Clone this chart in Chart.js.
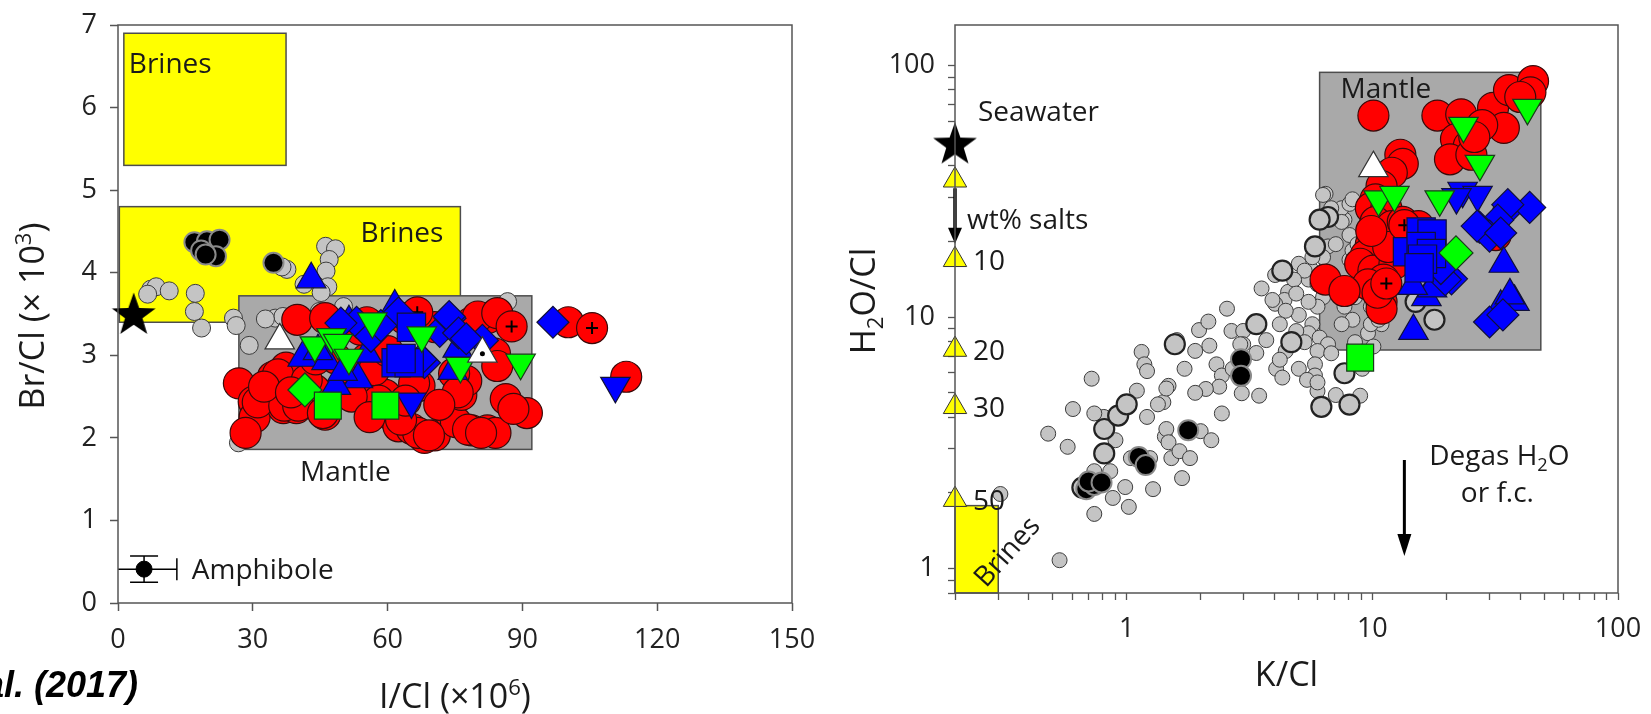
<!DOCTYPE html>
<html><head><meta charset="utf-8">
<script src="https://cdn.jsdelivr.net/npm/chart.js@4.4.1/dist/chart.umd.min.js"></script>
<style>
html,body{margin:0;padding:0;background:#fff;width:1651px;height:714px;overflow:hidden;position:relative;}
#wl{position:absolute;left:0;top:0;width:820px;height:714px;}
#wr{position:absolute;left:820px;top:0;width:831px;height:714px;}
#cite{position:absolute;right:1513px;top:663px;font:italic bold 36px "Liberation Sans",Arial,sans-serif;white-space:nowrap;line-height:44px;color:#000;}
</style></head><body>
<div id="wl"><canvas id="cl" width="820" height="714"></canvas></div>
<div id="wr"><canvas id="cr" width="831" height="714"></canvas></div>
<div id="cite">Kendrick et al. (2017)</div>
<script>
// ================= DATA =================
// Left panel: I/Cl (x10^6) vs Br/Cl (x10^3)
const leftXTicks = [0, 30, 60, 90, 120, 150];
const leftYTicks = [0, 1, 2, 3, 4, 5, 6, 7];
// boxes: [x0, x1, y0, y1]
const leftBrinesUpper = [1.3, 37.4, 5.3, 6.9];
const leftBrinesLower = [0.3, 76.2, 3.4, 4.8];
const leftMantle = [26.9, 92.1, 1.86, 3.72];

const leftGray = [[7.3,3.80],[8.5,3.83],[11.4,3.78],[6.6,3.74],[17.2,3.75],[17.0,3.53],[18.6,3.33],[25.7,3.45],[26.3,3.36],[29.2,3.12],[35.0,3.45],[36.7,3.47],[26.8,1.94],[44.8,3.53],[50.2,3.59],[86.7,3.65],[46.2,4.32],[48.4,4.29],[47.0,4.16],[46.3,4.02],[46.7,3.83],[37.6,4.04],[36.5,4.07],[41.4,3.86],[45.2,3.76],[32.8,3.44]];
const leftBlack = [[17.0,4.37],[19.8,4.38],[22.6,4.40],[21.8,4.20],[18.5,4.27],[19.5,4.22],[34.6,4.12]];
const leftRed = [[26.9,2.66],[30.2,2.44],[30.4,2.25],[28.4,2.06],[35.1,2.52],[36.8,2.36],[39.7,2.36],[34.5,2.74],[37.4,2.85],[39.9,3.43],[43.8,2.58],[46.1,2.28],[48.5,3.32],[53.7,2.71],[55.4,2.96],[59.5,2.52],[60.7,2.28],[62.4,2.14],[65.3,2.11],[68.2,2.00],[70.5,2.03],[65.9,2.80],[67.1,2.63],[63.6,3.45],[70.5,3.34],[73.9,2.30],[75.2,2.19],[76.4,2.52],[77.5,2.69],[78.7,2.09],[82.2,2.09],[84.0,2.06],[83.9,3.02],[86.3,2.47],[91.0,2.30],[78.7,3.40],[82.2,3.45],[100.2,3.40],[113.1,2.74],[55.4,3.40],[46.1,3.45],[48.5,2.96],[33.6,2.51],[31.1,2.43],[37.0,2.39],[40.1,2.39],[35.6,2.77],[45.6,2.30],[53.9,3.31],[57.0,2.82],[65.9,2.66],[66.8,2.06],[69.2,2.03],[63.0,2.22],[74.8,2.78],[75.6,2.55],[77.9,2.10],[80.8,2.06],[84.4,2.87],[80.1,3.47],[84.4,3.51],[42.0,2.70],[50.5,2.62],[58.0,2.45],[71.5,2.40],[60.0,3.05],[44.0,2.95],[52.0,2.50],[56.0,2.25],[64.0,2.45],[88.0,2.35],[32.5,2.62],[38.5,2.55]];
const leftRedPlus = [[66.6,3.52],[87.6,3.35],[105.5,3.33]];
const leftBlueUp = [[43.0,3.92],[41.1,2.97],[46.4,2.93],[51.4,3.40],[53.4,2.71],[48.5,2.63],[61.6,3.59],[74.5,2.81],[75.6,3.08],[55.4,3.02],[50.0,2.80],[44.5,3.05]];
const leftBlueDiamond = [[55.4,3.29],[53.1,3.40],[62.4,3.51],[68.2,2.91],[71.6,3.29],[73.9,3.45],[81.1,3.18],[96.8,3.40],[56.3,3.23],[73.7,3.47],[75.8,3.27],[67.4,2.95],[49.6,3.39],[58.5,3.36],[77.5,3.20]];
const leftBlueSquare = [[61.9,2.91],[65.3,3.34],[64.8,2.91],[63.0,2.96]];
const leftBlueDown = [[65.3,2.44],[110.7,2.63]];
const leftGreenDown = [[43.8,3.12],[47.5,3.22],[49.0,3.15],[51.4,2.97],[56.6,3.41],[67.6,3.24],[76.2,2.87],[89.6,2.91]];
const leftGreenDiamond = [[41.6,2.58]];
const leftGreenSquare = [[46.7,2.39],[59.5,2.39]];
const leftWhiteUp = [[36.0,3.18],[81.1,3.02]];
const leftWhiteDot = [[81.1,3.02]];
const leftSeawater = [[3.5,3.5]];
// amphibole representative analytical error
const amphPoint = [[5.8,0.41]];
const amphErrX = [7.3];
const amphErrY = [0.16];

// Right panel: K/Cl vs H2O/Cl (log-log)
const rightXTicks = [0.2,0.3,0.4,0.5,0.6,0.7,0.8,0.9,1,2,3,4,5,6,7,8,9,10,20,30,40,50,60,70,80,90,100];
const rightYTicks = [0.8,0.9,1,2,3,4,5,6,7,8,9,10,20,30,40,50,60,70,80,90,100];
const rightMajorTicks = [1, 10, 100];
const rightBrines = [0.2, 0.3, 0.8, 1.78];
const rightMantle = [6.1, 48.5, 7.4, 94];

const rightGraySmall = [[0.533,1.08],[0.479,3.44],[0.575,3.05],[0.72,5.69],[0.604,4.31],[0.807,4.01],[0.738,2.44],[0.857,2.44],[0.685,2.15],[0.738,1.65],[0.878,1.91],[1.02,1.76],[0.986,2.11],[1.28,2.07],[1.245,2.75],[1.52,2.75],[1.43,3.35],[1.21,4.01],[1.41,4.59],[1.48,5.33],[1.45,3.59],[1.48,3.18],[1.64,2.93],[1.68,2.29],[2.0,3.52],[1.6,8.1],[1.15,7.27],[1.18,6.49],[1.21,6.10],[1.97,8.88],[2.17,7.7],[2.67,8.81],[2.98,8.81],[3.54,13.0],[4.02,14.7],[4.54,12.6],[4.39,11.7],[4.02,11.3],[3.92,11.7],[2.98,7.8],[2.94,4.98],[2.32,6.49],[2.44,5.86],[2.38,5.29],[2.7,6.23],[4.06,6.23],[2.9,7.8],[2.1,5.18],[1.9,5.0],[0.306,1.98],
[6.45,30.9],[7.7,24.4],[7.5,27.1],[8.07,28.2],[6.6,19.1],[6.3,17.3],[6.6,14.7],[5.7,15.3],[5.02,16.3],[5.5,14.1],[5.98,13.5],[6.3,12.0],[5.98,11.0],[7.5,13.0],[7.7,11.0],[8.3,9.76],[7.5,9.37],[5.7,9.37],[5.5,8.63],[6.1,8.29],[6.6,7.8],[5.98,7.33],[6.8,7.18],[5.84,6.49],[5.84,5.86],[5.98,5.08],[9.1,6.23],[9.3,7.04],[9.6,8.63],[10.9,9.37],[8.92,14.1],[8.07,16.9],[8.3,18.4],[9.86,14.7],[8.5,12.0],[9.86,11.0],[6.8,27.1],[5.5,11.5],[5.02,10.2],[4.9,8.8],[4.44,7.33],[5.02,6.23],[5.42,5.63],
[6.3,30.6],[8.3,29.4],[7.5,23.9],[8.07,21.2],[7.1,19.5],[8.7,19.5],[5.7,17.3],[5.3,15.3],[4.8,14.1],[4.9,12.4],[4.44,10.6],[4.2,9.37],[5.3,7.95],[8.5,7.95],[10.1,7.64],[9.86,9.37],[7.1,4.9],[5.98,5.5],[4.2,6.77],[3.7,8.1],[3.37,7.2],[2.56,10.8],[2.15,9.6],[1.9,7.34],[1.72,6.23],[1.45,5.2],[1.34,4.5],[1.1,5.1],[0.9,3.24],[0.738,4.14],[1.04,2.75],[1.81,2.75],[2.21,3.24],[2.44,4.14],[3.46,4.87],[4.3,5.75],[8.92,4.87],[10.6,9.76]];
const rightGrayLarge = [[0.81,3.59],[0.923,4.06],[1.0,4.5],[0.81,2.87],[1.57,7.8],[3.37,9.37],[6.6,25.0],[5.84,19.1],[6.2,4.4],[8.07,4.49],[7.7,5.98],[4.68,7.95],[17.9,9.76],[15,11.5],[0.66,2.1],[4.3,15.3],[6.1,24.4]];
const rightBlack = [[0.685,2.07],[0.738,2.15],[0.7,2.22],[0.79,2.2],[1.12,2.78],[1.195,2.58],[1.78,3.55],[2.92,6.8],[2.92,5.84]];
const rightRed = [[10.1,63.3],[18.4,63.3],[23.0,64],[31.0,67.9],[36.0,79.9],[45.1,86.7],[44,78.3],[34.3,56.5],[21.9,51],[24.7,48],[20.7,42.4],[25.3,44.2],[13,44.2],[13.3,40.7],[12,37.5],[10.9,33.2],[10.3,29.4],[9.86,27.1],[11.4,27.1],[10.3,23.9],[9.86,19.5],[10.6,20.3],[10.9,17.6],[9.4,17.6],[12,23],[13.3,23.9],[15.4,23],[8.92,16.3],[10.1,15.3],[12.3,16.3],[11.1,14.1],[9.6,13.5],[10.9,11.5],[10.9,10.8],[6.45,14.1],[7.7,12.7],[31.8,21.2],[40,75],[28,58],[26,52],[11.6,19],[9.9,22],[10.5,12.5]];
const rightRedPlus = [[11.4,13.6],[13.5,23.2]];
const rightBlueUp = [[34.3,16.3],[37.9,11.5],[33.3,11.0],[14.7,8.81],[16.6,12.0],[17.5,13.0],[14.6,13.3],[36.3,12.2]];
const rightBlueDown = [[23.3,31.8],[26.8,30.6],[22.0,30.0]];
const rightBlueDiamond = [[36,27.1],[43.7,27.3],[35.6,28],[32.4,24.3],[27.3,22.8],[30,21],[26.7,23],[33.3,21.6],[21,14.2],[19.8,14.1],[30,9.56],[34,10.2],[19,15.6]];
const rightBlueSquare = [[15.8,21.8],[17.5,21.4],[13.9,18.2],[15.8,19.1],[17.4,17.9],[16,17.0],[15.5,15.7]];
const rightGreenDown = [[10.6,29.4],[12.3,30.6],[18.8,29.4],[23.5,57.6],[27.4,40.7],[42.8,67.9]];
const rightGreenDiamond = [[21.9,18.0]];
const rightGreenSquare = [[8.92,6.9]];
const rightWhiteUp = [[10.1,39.1]];
const rightSeawater = [[0.2,49]];
const saltPoints = [[0.2,35],[0.2,16.9],[0.2,7.43],[0.2,4.4],[0.2,1.88]];
const saltLabels = ['', '10', '20', '30', '50'];

// ================= DRAWING =================
const FAM = '"Open Sans","Noto Sans","DejaVu Sans",sans-serif';
const fnt = s => s + 'px ' + FAM;
const TXT = '#1a1a1a';

function starCanvas(size){
  const c = document.createElement('canvas'); c.width = size; c.height = size;
  const g = c.getContext('2d'); const R = size/2 - 1, r = R*0.4, cx = size/2, cy = size/2 + 1.5;
  g.beginPath();
  for (let i = 0; i < 10; i++){ const a = -Math.PI/2 + i*Math.PI/5; const rr = i%2 ? r : R;
    g.lineTo(cx + rr*Math.cos(a), cy + rr*Math.sin(a)); }
  g.closePath(); g.fillStyle = '#000'; g.fill(); return c;
}
const STAR = starCanvas(48);

function drawRich(ctx, parts, x, cy, size, align){
  let w = 0;
  const items = parts.map(p => {
    const s = (typeof p === 'string') ? {t:p} : p;
    const fs = (s.sub || s.sup) ? size*0.65 : size;
    ctx.font = fnt(fs);
    const mw = ctx.measureText(s.t).width; w += mw;
    return {t:s.t, fs, mw, dy: s.sub ? size*0.22 : (s.sup ? -size*0.4 : 0)};
  });
  let cx = align === 'center' ? x - w/2 : (align === 'right' ? x - w : x);
  const base = cy + size*0.357;
  ctx.textBaseline = 'alphabetic'; ctx.textAlign = 'left'; ctx.fillStyle = TXT;
  for (const it of items){ ctx.font = fnt(it.fs); ctx.fillText(it.t, cx, base + it.dy); cx += it.mw; }
}
function drawBox(ctx, xs, ys, b, fill){
  const x0 = xs.getPixelForValue(b[0]), x1 = xs.getPixelForValue(b[1]);
  const y0 = ys.getPixelForValue(b[2]), y1 = ys.getPixelForValue(b[3]);
  ctx.save(); ctx.fillStyle = fill; ctx.strokeStyle = '#4d4d4d'; ctx.lineWidth = 1.5;
  const L = Math.min(x0,x1), T = Math.min(y0,y1), W = Math.abs(x1-x0), H = Math.abs(y1-y0);
  ctx.fillRect(L, T, W, H); ctx.strokeRect(L, T, W, H); ctx.restore();
  return {L, T, R: L+W, B: T+H};
}
function vArrow(ctx, x, y0, y1, lw, hl, hw){
  ctx.save(); ctx.strokeStyle = '#000'; ctx.fillStyle = '#000'; ctx.lineWidth = lw;
  ctx.beginPath(); ctx.moveTo(x, y0); ctx.lineTo(x, y1 - hl + 2); ctx.stroke();
  ctx.beginPath(); ctx.moveTo(x - hw/2, y1 - hl); ctx.lineTo(x + hw/2, y1 - hl); ctx.lineTo(x, y1); ctx.closePath(); ctx.fill();
  ctx.restore();
}
function frame(chart){
  const a = chart.chartArea, ctx = chart.ctx;
  ctx.save(); ctx.strokeStyle = '#555'; ctx.lineWidth = 1.5;
  ctx.strokeRect(a.left, a.top, a.right - a.left, a.bottom - a.top); ctx.restore();
}

const ST = {
  gray:   {pointStyle:'circle', pointRadius:9, pointBackgroundColor:'#c4c4c4', pointBorderColor:'#3c3c3c', pointBorderWidth:1},
  graySm: {pointStyle:'circle', pointRadius:7.5, pointBackgroundColor:'#c4c4c4', pointBorderColor:'#3c3c3c', pointBorderWidth:1},
  grayLg: {pointStyle:'circle', pointRadius:10, pointBackgroundColor:'#c4c4c4', pointBorderColor:'#222', pointBorderWidth:2.2},
  black:  {pointStyle:'circle', pointRadius:10, pointBackgroundColor:'#000', pointBorderColor:'#8a8a8a', pointBorderWidth:2},
  red:    {pointStyle:'circle', pointRadius:15.5, pointBackgroundColor:'#ff0000', pointBorderColor:'#3a0a0a', pointBorderWidth:1.2},
  cross:  {pointStyle:'cross', pointRadius:6, pointBorderColor:'#000', pointBorderWidth:2},
  blueUp: {pointStyle:'triangle', pointRadius:17, pointBackgroundColor:'#0000ff', pointBorderColor:'#10103a', pointBorderWidth:1.2},
  blueDn: {pointStyle:'triangle', pointRotation:180, pointRadius:17, pointBackgroundColor:'#0000ff', pointBorderColor:'#10103a', pointBorderWidth:1.2},
  blueDi: {pointStyle:'rectRot', pointRadius:16, pointBackgroundColor:'#0000ff', pointBorderColor:'#10103a', pointBorderWidth:1.2},
  blueSq: {pointStyle:'rect', pointRadius:20, pointBackgroundColor:'#0000ff', pointBorderColor:'#10103a', pointBorderWidth:1.2},
  greenDn:{pointStyle:'triangle', pointRotation:180, pointRadius:17, pointBackgroundColor:'#00ff00', pointBorderColor:'#1a3a1a', pointBorderWidth:1.2},
  greenDi:{pointStyle:'rectRot', pointRadius:17, pointBackgroundColor:'#00ff00', pointBorderColor:'#1a3a1a', pointBorderWidth:1.2},
  greenSq:{pointStyle:'rect', pointRadius:19, pointBackgroundColor:'#00ff00', pointBorderColor:'#1a3a1a', pointBorderWidth:1.2},
  white:  {pointStyle:'triangle', pointRadius:17, pointBackgroundColor:'#ffffff', pointBorderColor:'#333', pointBorderWidth:1.2},
  dot:    {pointStyle:'circle', pointRadius:2.5, pointBackgroundColor:'#000', pointBorderColor:'#000', pointBorderWidth:0},
  star:   {pointStyle:STAR, pointRadius:24},
  salt:   {pointStyle:'triangle', pointRadius:13.5, pointBackgroundColor:'#ffff00', pointBorderColor:'#333', pointBorderWidth:1},
  amph:   {pointStyle:'circle', pointRadius:8, pointBackgroundColor:'#000', pointBorderColor:'#000', pointBorderWidth:1}
};
function build(list){
  return list.map((d, i) => Object.assign({
    label: d[0], data: d[1].map(p => ({x:p[0], y:p[1]})), clip:false, order:-i, showLine:false
  }, ST[d[2]], {pointHoverRadius: ST[d[2]].pointRadius}));
}
function tickFont(){ return {family: FAM, size: 27}; }
const TITLE = 34;

// ---------- Left chart ----------
const leftPlugin = {
  id: 'leftAnn',
  beforeDatasetsDraw(chart){
    const {ctx, scales:{x, y}} = chart;
    const b1 = drawBox(ctx, x, y, leftBrinesUpper, '#ffff00');
    const b2 = drawBox(ctx, x, y, leftBrinesLower, '#ffff00');
    const m = drawBox(ctx, x, y, leftMantle, '#a9a9a9');
    chart.$boxes = {b1, b2, m};
  },
  afterDatasetsDraw(chart){
    const {ctx, scales:{x, y}} = chart; const a = chart.chartArea;
    const {b1, b2, m} = chart.$boxes;
    ctx.save();
    ctx.beginPath(); ctx.rect(a.left, a.top, a.right-a.left, a.bottom-a.top); ctx.clip();
    ctx.strokeStyle = '#000'; ctx.lineWidth = 1.5;
    const px = x.getPixelForValue(amphPoint[0][0]), py = y.getPixelForValue(amphPoint[0][1]);
    const xl = x.getPixelForValue(amphPoint[0][0] - amphErrX[0]), xr = x.getPixelForValue(amphPoint[0][0] + amphErrX[0]);
    const yt = y.getPixelForValue(amphPoint[0][1] + amphErrY[0]), yb = y.getPixelForValue(amphPoint[0][1] - amphErrY[0]);
    ctx.beginPath();
    ctx.moveTo(xl, py); ctx.lineTo(xr, py);
    ctx.moveTo(xr, py - 11); ctx.lineTo(xr, py + 11);
    ctx.moveTo(px, yt); ctx.lineTo(px, yb);
    ctx.moveTo(px - 14, yt); ctx.lineTo(px + 14, yt);
    ctx.moveTo(px - 14, yb); ctx.lineTo(px + 14, yb);
    ctx.stroke(); ctx.restore();
    drawRich(ctx, ['Amphibole'], xr + 15, py, 28, 'left');
    drawRich(ctx, ['Brines'], b1.L + 5, b1.T + 30, 28, 'left');
    drawRich(ctx, ['Brines'], b2.R - 17, b2.T + 25, 28, 'right');
    drawRich(ctx, ['Mantle'], (m.L + m.R)/2 - 40, m.B + 22, 28, 'center');
    frame(chart);
  },
  afterDraw(chart){
    const ctx = chart.ctx; const a = chart.chartArea;
    drawRich(ctx, ['I/Cl (×10', {t:'6', sup:true}, ')'], (a.left + a.right)/2, 696, TITLE, 'center');
    ctx.save(); ctx.translate(32, (a.top + a.bottom)/2 + 2); ctx.rotate(-Math.PI/2);
    drawRich(ctx, ['Br/Cl (× 10', {t:'3', sup:true}, ')'], 0, 0, TITLE, 'center');
    ctx.restore();
  }
};

new Chart(document.getElementById('cl'), {
  type: 'scatter',
  data: { datasets: build([
    ['Gray', leftGray, 'gray'],
    ['Black', leftBlack, 'black'],
    ['Red', leftRed, 'red'],
    ['Red+', leftRedPlus, 'red'],
    ['Cross', leftRedPlus, 'cross'],
    ['BlueUp', leftBlueUp, 'blueUp'],
    ['BlueDi', leftBlueDiamond, 'blueDi'],
    ['BlueSq', leftBlueSquare, 'blueSq'],
    ['BlueDn', leftBlueDown, 'blueDn'],
    ['GreenDn', leftGreenDown, 'greenDn'],
    ['GreenDi', leftGreenDiamond, 'greenDi'],
    ['GreenSq', leftGreenSquare, 'greenSq'],
    ['White', leftWhiteUp, 'white'],
    ['WhiteDot', leftWhiteDot, 'dot'],
    ['Seawater', leftSeawater, 'star'],
    ['Amphibole', amphPoint, 'amph']
  ])},
  options: {
    responsive: false, animation: false, events: [],
    layout: { padding: {left: 0, right: 28, top: 19, bottom: 0} },
    plugins: { legend: {display: false}, tooltip: {enabled: false} },
    scales: {
      x: { type: 'linear', min: 0, max: 150,
        afterBuildTicks: s => { s.ticks = leftXTicks.map(v => ({value: v})); },
        afterFit: s => { s.height = 111; s.paddingLeft = 0; s.paddingRight = 0; },
        ticks: { font: tickFont(), color: '#222', padding: 13, maxRotation: 0, autoSkip: false },
        grid: { drawOnChartArea: false, drawTicks: true, tickLength: 8, tickColor: '#555', tickWidth: 1.5 },
        border: { display: false } },
      y: { type: 'linear', min: 0, max: 7,
        afterBuildTicks: s => { s.ticks = leftYTicks.map(v => ({value: v})); },
        afterFit: s => { s.width = 118; s.paddingTop = 0; s.paddingBottom = 0; },
        ticks: { font: tickFont(), color: '#222', padding: 13, autoSkip: false },
        grid: { drawOnChartArea: false, drawTicks: true, tickLength: 8, tickColor: '#555', tickWidth: 1.5 },
        border: { display: false } }
    }
  },
  plugins: [leftPlugin]
});

// ---------- Right chart ----------
const rightPlugin = {
  id: 'rightAnn',
  beforeDatasetsDraw(chart){
    const {ctx, scales:{x, y}} = chart;
    chart.$b = drawBox(ctx, x, y, rightBrines, '#ffff00');
    chart.$m = drawBox(ctx, x, y, rightMantle, '#a9a9a9');
  },
  afterDatasetsDraw(chart){
    const {ctx, scales:{x, y}} = chart;
    const ax = x.getPixelForValue(0.2);
    const b = chart.$b, m = chart.$m;
    vArrow(ctx, ax, y.getPixelForValue(saltPoints[0][1]) + 8, y.getPixelForValue(saltPoints[1][1]) - 16, 3.5, 16, 14);
    drawRich(ctx, ['Seawater'], ax + 23, y.getPixelForValue(rightSeawater[0][1]) - 33, 28, 'left');
    drawRich(ctx, ['wt% salts'], ax + 12, y.getPixelForValue(24.5), 28, 'left');
    saltPoints.forEach((p, i) => { if (saltLabels[i]) drawRich(ctx, [saltLabels[i]], ax + 18, y.getPixelForValue(p[1]), 28, 'left'); });
    ctx.save(); ctx.translate(b.R + 8, b.B - 42); ctx.rotate(-48 * Math.PI/180);
    drawRich(ctx, ['Brines'], 0, 0, 28, 'center'); ctx.restore();
    drawRich(ctx, ['Mantle'], m.L + 21, m.T + 16, 28, 'left');
    const dx = x.getPixelForValue(13.5);
    drawRich(ctx, ['Degas H', {t:'2', sub:true}, 'O'], dx + 95, 455, 28, 'center');
    drawRich(ctx, ['or f.c.'], dx + 93, 492, 28, 'center');
    vArrow(ctx, dx, 460, 556, 3, 22, 14);
    frame(chart);
  },
  afterDraw(chart){
    const ctx = chart.ctx; const a = chart.chartArea;
    drawRich(ctx, ['K/Cl'], (a.left + a.right)/2, 674, TITLE, 'center');
    ctx.save(); ctx.translate(43, 301); ctx.rotate(-Math.PI/2);
    drawRich(ctx, ['H', {t:'2', sub:true}, 'O/Cl'], 0, 0, TITLE, 'center');
    ctx.restore();
  }
};

const logLabel = v => rightMajorTicks.includes(v) ? String(v) : '';
new Chart(document.getElementById('cr'), {
  type: 'scatter',
  data: { datasets: build([
    ['GraySm', rightGraySmall, 'graySm'],
    ['GrayLg', rightGrayLarge, 'grayLg'],
    ['Black', rightBlack, 'black'],
    ['Red', rightRed, 'red'],
    ['Red+', rightRedPlus, 'red'],
    ['Cross', rightRedPlus, 'cross'],
    ['BlueUp', rightBlueUp, 'blueUp'],
    ['BlueDn', rightBlueDown, 'blueDn'],
    ['BlueDi', rightBlueDiamond, 'blueDi'],
    ['BlueSq', rightBlueSquare, 'blueSq'],
    ['GreenDn', rightGreenDown, 'greenDn'],
    ['GreenDi', rightGreenDiamond, 'greenDi'],
    ['GreenSq', rightGreenSquare, 'greenSq'],
    ['White', rightWhiteUp, 'white'],
    ['Salts', saltPoints, 'salt'],
    ['Seawater', rightSeawater, 'star']
  ])},
  options: {
    responsive: false, animation: false, events: [],
    layout: { padding: {left: 0, right: 33, top: 14, bottom: 0} },
    plugins: { legend: {display: false}, tooltip: {enabled: false} },
    scales: {
      x: { type: 'logarithmic', min: 0.2, max: 100,
        afterBuildTicks: s => { s.ticks = rightXTicks.map(v => ({value: v})); },
        afterFit: s => { s.height = 121; s.paddingLeft = 0; s.paddingRight = 0; },
        ticks: { font: tickFont(), color: '#222', padding: 13, maxRotation: 0, autoSkip: false, callback: v => logLabel(v) },
        grid: { drawOnChartArea: false, drawTicks: true, tickLength: 7, tickColor: '#555', tickWidth: 1.3 },
        border: { display: false } },
      y: { type: 'logarithmic', min: 0.8, max: 145,
        afterBuildTicks: s => { s.ticks = rightYTicks.map(v => ({value: v})); },
        afterFit: s => { s.width = 135; s.paddingTop = 0; s.paddingBottom = 0; },
        ticks: { font: tickFont(), color: '#222', padding: 13, autoSkip: false, callback: v => logLabel(v) },
        grid: { drawOnChartArea: false, drawTicks: true, tickLength: 7, tickColor: '#555', tickWidth: 1.3 },
        border: { display: false } }
    }
  },
  plugins: [rightPlugin]
});
</script>
</body></html>
